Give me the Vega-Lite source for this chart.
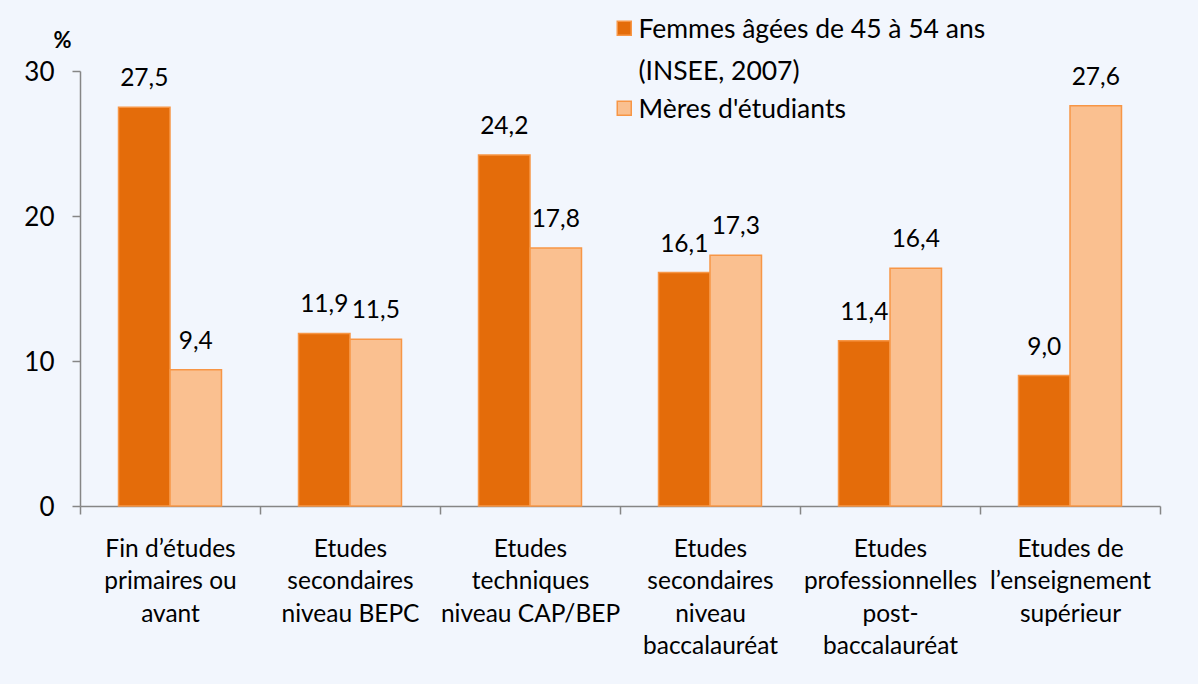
{
  "$schema": "https://vega.github.io/schema/vega-lite/v6.json",
  "autosize": "none",
  "width": 1080,
  "height": 435,
  "padding": {"left": 80, "top": 71, "right": 38, "bottom": 178},
  "background": "#F2F6FD",
  "config": {
    "view": {"stroke": null},
    "font": "Lato",
    "style": {"guide-label": {"dy": 9.3, "lineHeight": 42}},
    "locale": {"number": {"decimal": ",", "thousands": " ", "grouping": [3], "currency": ["", " €"]}}
  },
  "data": {
    "values": [
      {"cat": "Fin d’études|primaires ou|avant", "serie": "Femmes âgées de 45 à 54 ans|(INSEE, 2007)", "val": 27.5},
      {"cat": "Fin d’études|primaires ou|avant", "serie": "Mères d'étudiants", "val": 9.4},
      {"cat": "Etudes|secondaires|niveau BEPC", "serie": "Femmes âgées de 45 à 54 ans|(INSEE, 2007)", "val": 11.9},
      {"cat": "Etudes|secondaires|niveau BEPC", "serie": "Mères d'étudiants", "val": 11.5},
      {"cat": "Etudes|techniques|niveau CAP/BEP", "serie": "Femmes âgées de 45 à 54 ans|(INSEE, 2007)", "val": 24.2},
      {"cat": "Etudes|techniques|niveau CAP/BEP", "serie": "Mères d'étudiants", "val": 17.8},
      {"cat": "Etudes|secondaires|niveau|baccalauréat", "serie": "Femmes âgées de 45 à 54 ans|(INSEE, 2007)", "val": 16.1},
      {"cat": "Etudes|secondaires|niveau|baccalauréat", "serie": "Mères d'étudiants", "val": 17.3},
      {"cat": "Etudes|professionnelles|post-|baccalauréat", "serie": "Femmes âgées de 45 à 54 ans|(INSEE, 2007)", "val": 11.4},
      {"cat": "Etudes|professionnelles|post-|baccalauréat", "serie": "Mères d'étudiants", "val": 16.4},
      {"cat": "Etudes de|l’enseignement|supérieur", "serie": "Femmes âgées de 45 à 54 ans|(INSEE, 2007)", "val": 9.0},
      {"cat": "Etudes de|l’enseignement|supérieur", "serie": "Mères d'étudiants", "val": 27.6}
    ]
  },
  "encoding": {
    "x": {
      "field": "cat", "type": "nominal", "sort": null,
      "scale": {"paddingInner": 0, "paddingOuter": 0},
      "axis": {
        "title": null, "labelAngle": 0, "labelExpr": "split(datum.label, '|')",
        "labelFontSize": 24.5, "labelColor": "#000000", "labelLineHeight": 32.5,
        "labelPadding": 13.7, "tickBand": "extent", "tickSize": 8,
        "domainColor": "#868686", "tickColor": "#868686", "domainWidth": 1.5, "tickWidth": 1.5,
        "labelBaseline": "top", "labelLimit": 300
      }
    },
    "xOffset": {"field": "serie", "type": "nominal", "sort": null, "scale": {"paddingInner": 0, "paddingOuter": 0.748}},
    "y": {
      "field": "val", "type": "quantitative",
      "scale": {"domain": [0, 30], "nice": false},
      "axis": {
        "values": [0, 10, 20, 30], "grid": false, "title": "%", "titleAngle": 0,
        "titleX": -18, "titleY": -31, "titleAlign": "center", "titleBaseline": "middle",
        "titleFontSize": 22, "titleFontWeight": "bold", "titleColor": "#000000",
        "labelFontSize": 26, "labelColor": "#000000", "labelPadding": 18, "tickSize": 8,
        "labelBaseline": "alphabetic",
        "domainColor": "#868686", "tickColor": "#868686", "domainWidth": 1.5, "tickWidth": 1.5
      }
    }
  },
  "layer": [
    {
      "mark": {"type": "bar", "stroke": "#F79646", "strokeWidth": 1.5},
      "encoding": {
        "color": {
          "field": "serie", "type": "nominal", "sort": null,
          "scale": {"range": ["#E46C0A", "#FAC090"]},
          "legend": {
            "title": null, "orient": "none", "legendX": 531, "legendY": -56,
            "labelExpr": "split(datum.label, '|')", "labelFontSize": 26.5, "labelColor": "#000000",
            "symbolType": "square", "symbolSize": 196,
            "symbolStrokeColor": "#F79646", "symbolStrokeWidth": 1.5, "labelOffset": 1,
            "rowPadding": 9, "labelBaseline": "alphabetic", "labelLimit": 500
          }
        }
      }
    },
    {
      "mark": {"type": "text", "baseline": "alphabetic", "dy": -21, "fontSize": 24.5, "color": "#000000"},
      "encoding": {
        "text": {"field": "val", "type": "quantitative", "format": ".1f"}
      }
    }
  ]
}
